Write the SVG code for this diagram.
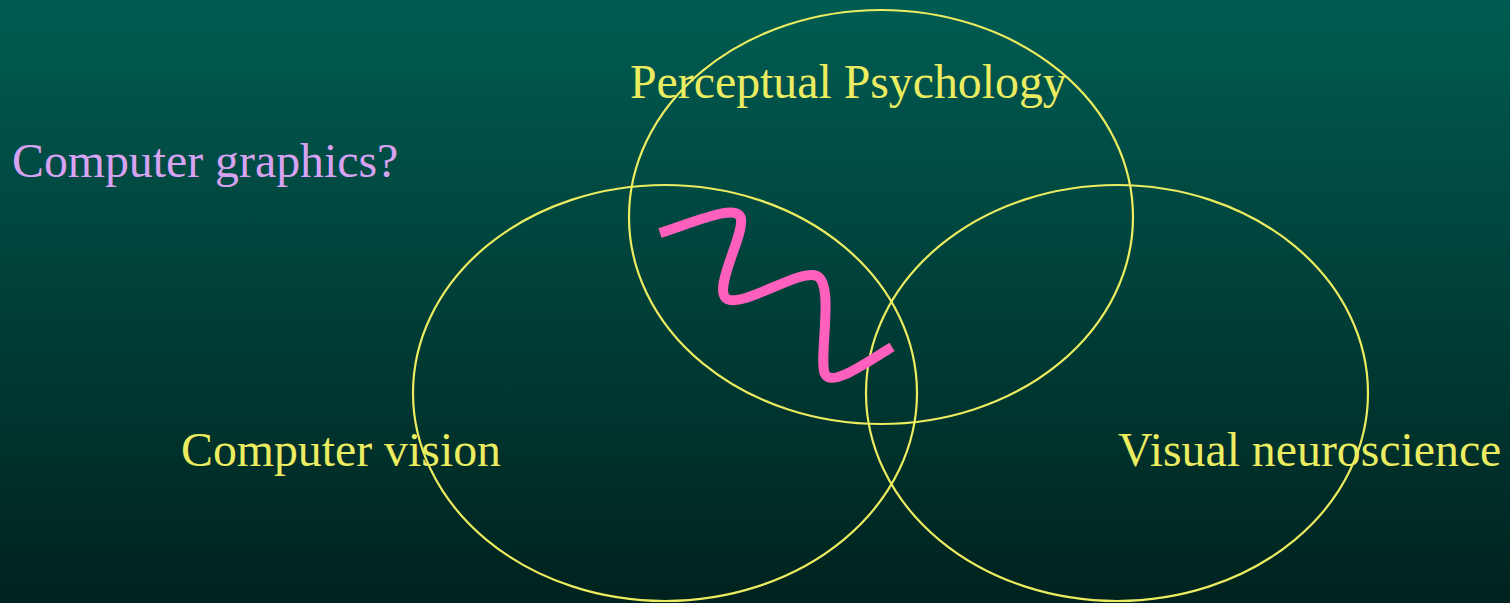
<svg xmlns="http://www.w3.org/2000/svg" width="1510" height="603" viewBox="0 0 1510 603">
<defs>
<linearGradient id="bg" x1="0" y1="0" x2="0" y2="1">
<stop offset="0" stop-color="#005c52"/>
<stop offset="1" stop-color="#00221e"/>
</linearGradient>
<style>
.lbl{font-family:"Liberation Serif","Times New Roman",serif;font-size:47.8px;fill:#ecec60}
.q{fill:#d8a2f2}
.ring{fill:none;stroke:#ecec60;stroke-width:2.2}
</style>
</defs>
<rect width="1510" height="603" fill="url(#bg)"/>
<g id="perceptual-psychology">
<ellipse class="ring" cx="881" cy="217" rx="252" ry="207"/>
<text class="lbl" x="630" y="98">Perceptual Psychology</text>
</g>
<g id="computer-vision">
<ellipse class="ring" cx="665" cy="393" rx="252" ry="208"/>
<text class="lbl" x="181" y="466">Computer vision</text>
</g>
<g id="visual-neuroscience">
<ellipse class="ring" cx="1117" cy="393" rx="251" ry="208"/>
<text class="lbl" x="1118" y="466">Visual neuroscience</text>
</g>
<g id="computer-graphics">
<text class="lbl q" x="12" y="177">Computer graphics?</text>
</g>
<g id="connectors">
<path d="M660,233 C700,220 738,203 741,219 C744,236 712,290 727,299 C743,308 800,268 817,276 C835,285 818,360 825,374 C832,388 870,360 892,347" fill="none" stroke="#ff5fbd" stroke-width="10"/>
</g>
</svg>
